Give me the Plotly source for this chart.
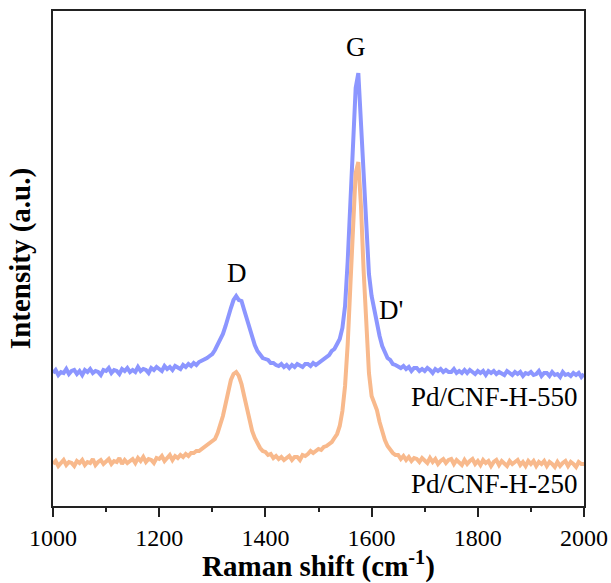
import plotly.graph_objects as go

raman_shift = list(range(1000, 2001, 5))

intensity_550 = [
    133,136,131,134,133,137,132,135,136,132,
    135,131,136,134,137,133,135,134,131,136,
    135,138,133,136,135,132,137,135,138,134,
    136,134,139,135,137,136,133,138,136,139,
    137,135,140,137,139,136,140,138,137,141,
    139,142,140,143,141,144,145,146,148,150,
    152,156,161,166,172,180,190,198,206,210,
    206,205,196,187,178,167,161,155,151,148,
    147,146,143,143,141,140,142,139,141,138,
    141,139,142,140,139,142,142,140,143,141,
    143,145,146,149,151,155,157,162,167,178,
    200,245,302,368,418,433,380,321,266,232,
    210,195,181,170,160,154,148,146,142,141,
    139,138,140,137,139,135,138,138,135,137,
    135,138,136,133,137,135,137,134,136,134,
    134,137,133,135,133,136,133,136,134,132,
    135,133,135,131,135,133,135,132,134,133,
    131,135,133,131,134,132,134,130,133,132,
    134,131,132,135,130,133,133,130,134,131,
    132,129,134,131,132,130,133,131,133,129,
    132,
]

intensity_250 = [
    42,45,40,43,46,41,44,43,40,45,
    43,46,41,44,43,47,41,44,46,42,
    44,47,42,45,44,48,42,46,43,45,
    47,43,48,45,49,44,47,46,43,48,
    47,50,45,48,51,46,50,48,51,49,
    52,50,53,53,55,55,57,58,61,62,
    64,67,73,81,90,102,115,126,132,134,
    130,122,110,97,85,75,68,62,58,55,
    54,51,52,48,50,47,49,46,48,50,
    46,49,49,46,51,50,52,55,53,55,
    57,56,59,60,62,64,68,72,80,95,
    120,162,220,285,333,344,300,235,175,133,
    110,102,96,84,74,66,60,56,53,51,
    51,47,50,46,49,45,48,47,44,48,
    46,43,48,44,47,42,45,47,43,46,
    47,42,46,44,41,46,42,45,47,42,
    45,41,46,43,45,40,44,46,41,45,
    43,40,45,42,44,46,41,44,40,45,
    42,45,40,44,42,45,40,44,42,39,
    44,40,43,45,40,44,42,39,44,42,
    42,
]

x_ticks = [1000, 1200, 1400, 1600, 1800, 2000]
series_names = ["Pd/CNF-H-550", "Pd/CNF-H-250"]

FONT = "Liberation Serif"

fig = go.Figure()
fig.add_trace(go.Scatter(x=raman_shift, y=intensity_550, mode="lines",
                         line=dict(color="#8C96FF", width=4), name=series_names[0]))
fig.add_trace(go.Scatter(x=raman_shift, y=intensity_250, mode="lines",
                         line=dict(color="#F8B98C", width=4), name=series_names[1]))

annots = [
    dict(x=1346, y=233, text="D", xanchor="center", yanchor="middle"),
    dict(x=1571, y=459, text="G", xanchor="center", yanchor="middle"),
    dict(x=1636, y=196, text="D'", xanchor="center", yanchor="middle"),
    dict(x=1993, y=109, text=series_names[0], xanchor="right", yanchor="middle"),
    dict(x=1993, y=22, text=series_names[1], xanchor="right", yanchor="middle"),
]
for a in annots:
    fig.add_annotation(showarrow=False, font=dict(family=FONT, size=27, color="black"), **a)

fig.update_layout(
    width=611, height=583,
    margin=dict(l=53, r=27, t=11, b=77, autoexpand=False),
    paper_bgcolor="white", plot_bgcolor="white",
    showlegend=False,
    font=dict(family=FONT, color="black"),
)
fig.update_xaxes(
    range=[1000, 2000], tickvals=x_ticks, ticktext=[str(t) for t in x_ticks],
    ticks="outside", ticklen=9, tickwidth=1.5, tickcolor="#222",
    minor=dict(dtick=100, ticks="outside", ticklen=4, tickwidth=1.5, tickcolor="#222"),
    showline=True, linecolor="#222", linewidth=2, mirror=True,
    showgrid=False, zeroline=False, automargin=False,
    tickfont=dict(family=FONT, size=24, color="black"),
    title=dict(text="<b>Raman shift (cm<sup>-1</sup>)</b>",
               font=dict(family=FONT, size=29, color="black"), standoff=8),
)
fig.update_yaxes(
    range=[0, 495], showticklabels=False, ticks="",
    showline=True, linecolor="#222", linewidth=2, mirror=True,
    showgrid=False, zeroline=False, automargin=False,
    title=dict(text="<b>Intensity (a.u.)</b>",
               font=dict(family=FONT, size=29, color="black"), standoff=12),
)

fig.write_html("out.html")
